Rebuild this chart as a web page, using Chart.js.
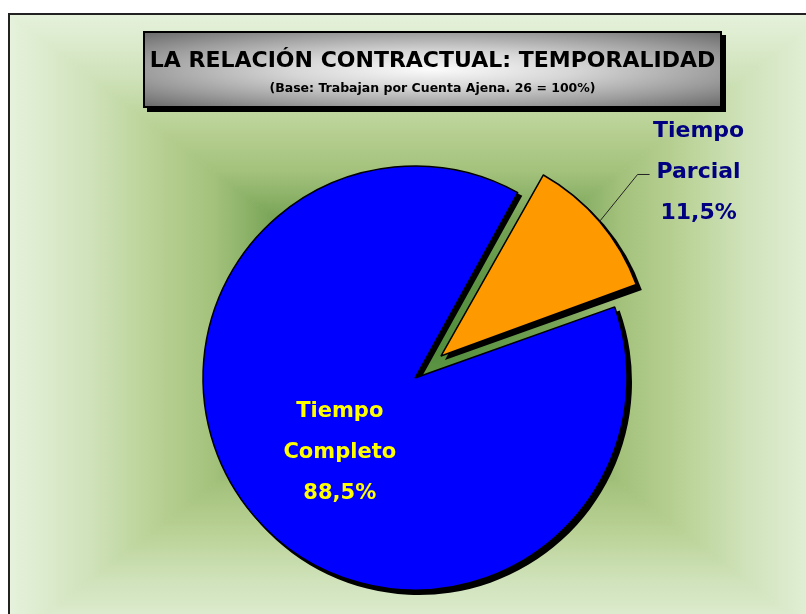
<!DOCTYPE html>
<html>
<head>
<meta charset="utf-8">
<title>La relación contractual: temporalidad</title>
<script src="https://cdn.jsdelivr.net/npm/chart.js@4.4.0/dist/chart.umd.min.js"></script>
<style>
    html, body {
        margin: 0;
        padding: 0;
        background: #ffffff;
    }
    #wrap {
        position: relative;
        width: 806px;
        height: 614px;
        overflow: hidden;
    }
    #chart {
        position: absolute;
        left: 0;
        top: 0;
    }
    #titleBox {
        position: absolute;
        left: 143px;
        top: 31px;
        width: 579px;
        height: 77px;
        box-sizing: border-box;
        border: 2px solid #000;
        box-shadow: 4px 4px 0 #000;
        background: radial-gradient(ellipse at 50% 50%, #fbfbfb 0%, #d6d6d6 35%, #9c9c9c 72%, #6c6c6c 100%);
        text-align: center;
        font-family: "DejaVu Sans", sans-serif;
        font-weight: bold;
        color: #000;
    }
    #titleMain {
        margin-top: 14px;
        font-size: 22px;
        line-height: 26px;
        white-space: nowrap;
    }
    #titleSub {
        margin-top: 8px;
        font-size: 12.5px;
        line-height: 14px;
        white-space: nowrap;
    }
</style>
</head>
<body>
<div id="wrap">
    <canvas id="chart" width="806" height="614"></canvas>
    <div id="titleBox">
        <div id="titleMain">LA RELACIÓN CONTRACTUAL: TEMPORALIDAD</div>
        <div id="titleSub">(Base: Trabajan por Cuenta Ajena. 26 = 100%)</div>
    </div>
</div>
<script>
// datos del gráfico
const categories = ['Tiempo Parcial', 'Tiempo Completo'];
const labelWords = [['Tiempo', 'Parcial'], ['Tiempo', 'Completo']];
const values = [11.5, 88.5];
const sliceColors = ['#ff9900', '#0000ff'];
const labelColors = ['#000080', '#ffff00'];

const pieRadius = 212;
const explodedRadius = 208; // la porción separada es un poco más pequeña
const explode = 136;        // offset de Chart.js (se desplaza offset/4)

function pct(v) {
    return v.toFixed(1).replace('.', ',') + '%';
}

// desplazamiento y radio extra que Chart.js aplica a una porción con offset
function arcShift(arc) {
    const off = (arc.options.offset || 0) / 4;
    const circ = arc.endAngle - arc.startAngle;
    const fix = 1 - Math.sin(Math.min(Math.PI, circ));
    return {move: off, grow: off * fix};
}

// fondo degradado rectangular (oscuro en el centro)
const backgroundPlugin = {
    id: 'bgRect',
    beforeDraw(chart) {
        const ctx = chart.ctx;
        const x0 = 9, y0 = 14, x1 = 826, y1 = 642;
        const cx = (x0 + x1) / 2, cy = (y0 + y1) / 2;
        const stops = [
            [0, '#4a8a38'],
            [0.35, '#78a457'],
            [0.5, '#a4c27c'],
            [0.65, '#bad296'],
            [0.8, '#cfe2ba'],
            [1, '#e6f2dc']
        ];
        const tris = [
            [[x0, y0], [x1, y0], cx, y0],
            [[x1, y0], [x1, y1], x1, cy],
            [[x1, y1], [x0, y1], cx, y1],
            [[x0, y1], [x0, y0], x0, cy]
        ];
        ctx.save();
        tris.forEach(function (t) {
            const g = ctx.createLinearGradient(cx, cy, t[2], t[3]);
            stops.forEach(function (s) { g.addColorStop(s[0], s[1]); });
            ctx.beginPath();
            ctx.moveTo(cx, cy);
            ctx.lineTo(t[0][0], t[0][1]);
            ctx.lineTo(t[1][0], t[1][1]);
            ctx.closePath();
            ctx.fillStyle = g;
            ctx.fill();
            ctx.strokeStyle = g;
            ctx.lineWidth = 1;
            ctx.stroke();
        });
        ctx.strokeStyle = '#222';
        ctx.lineWidth = 2;
        ctx.strokeRect(x0, y0, x1 - x0, y1 - y0);
        ctx.restore();
    }
};

// radio de la porción separada + sombra negra bajo las porciones
const shadowPlugin = {
    id: 'pieShadow',
    afterDatasetUpdate(chart) {
        const arc = chart.getDatasetMeta(0).data[0];
        arc.outerRadius = explodedRadius - arcShift(arc).grow;
    },
    beforeDatasetsDraw(chart) {
        const ctx = chart.ctx;
        const arcs = chart.getDatasetMeta(0).data;
        ctx.save();
        ctx.translate(4, 4);
        ctx.fillStyle = '#000';
        arcs.forEach(function (arc) {
            const s = arcShift(arc);
            const mid = (arc.startAngle + arc.endAngle) / 2;
            const cx = arc.x + Math.cos(mid) * s.move;
            const cy = arc.y + Math.sin(mid) * s.move;
            ctx.beginPath();
            ctx.moveTo(cx, cy);
            ctx.arc(cx, cy, arc.outerRadius + s.grow + 1, arc.startAngle, arc.endAngle);
            ctx.closePath();
            ctx.fill();
        });
        ctx.restore();
    }
};

// etiquetas de las porciones
const labelPlugin = {
    id: 'sliceLabels',
    afterDraw(chart) {
        const ctx = chart.ctx;
        const arcs = chart.getDatasetMeta(0).data;
        ctx.save();
        ctx.textAlign = 'center';
        ctx.textBaseline = 'middle';

        // Tiempo Completo: dentro de la porción
        let a = arcs[1];
        let mid = (a.startAngle + a.endAngle) / 2;
        let lx = a.x + Math.cos(mid) * a.outerRadius * 0.49 + 4;
        let ly = a.y + Math.sin(mid) * a.outerRadius * 0.49 + 7;
        let lines = labelWords[1].concat([pct(values[1])]);
        ctx.font = 'bold 21px "DejaVu Sans"';
        ctx.fillStyle = labelColors[1];
        lines.forEach(function (s, i) {
            ctx.fillText(s, lx, ly + (i - 1) * 41);
        });

        // Tiempo Parcial: fuera, con línea guía
        a = arcs[0];
        mid = (a.startAngle + a.endAngle) / 2;
        const sh = arcShift(a);
        const r = sh.move + a.outerRadius + sh.grow;
        const sx = a.x + Math.cos(mid) * r;
        const sy = a.y + Math.sin(mid) * r;
        const ex = sx + 38, ey = sy - 47;
        ctx.strokeStyle = '#222';
        ctx.lineWidth = 1;
        ctx.beginPath();
        ctx.moveTo(sx, sy);
        ctx.lineTo(ex, ey);
        ctx.lineTo(ex + 12, ey);
        ctx.stroke();
        lines = labelWords[0].concat([pct(values[0])]);
        ctx.font = 'bold 22px "DejaVu Sans"';
        ctx.fillStyle = labelColors[0];
        lines.forEach(function (s, i) {
            ctx.fillText(s, ex + 61, ey - 2 + (i - 1) * 41);
        });
        ctx.restore();
    }
};

const ctx = document.getElementById('chart').getContext('2d');
const chart = new Chart(ctx, {
    type: 'pie',
    data: {
        labels: categories,
        datasets: [{
            data: values,
            backgroundColor: sliceColors,
            borderColor: '#000',
            borderWidth: 1.5,
            offset: [explode, 0]
        }]
    },
    options: {
        responsive: false,
        animation: false,
        events: [],
        rotation: 29,
        radius: pieRadius,
        layout: {
            padding: {left: 24, right: 0, top: 142, bottom: 0}
        },
        plugins: {
            legend: {display: false},
            tooltip: {enabled: false},
            title: {display: false}
        }
    },
    plugins: [backgroundPlugin, shadowPlugin, labelPlugin]
});
</script>
</body>
</html>
